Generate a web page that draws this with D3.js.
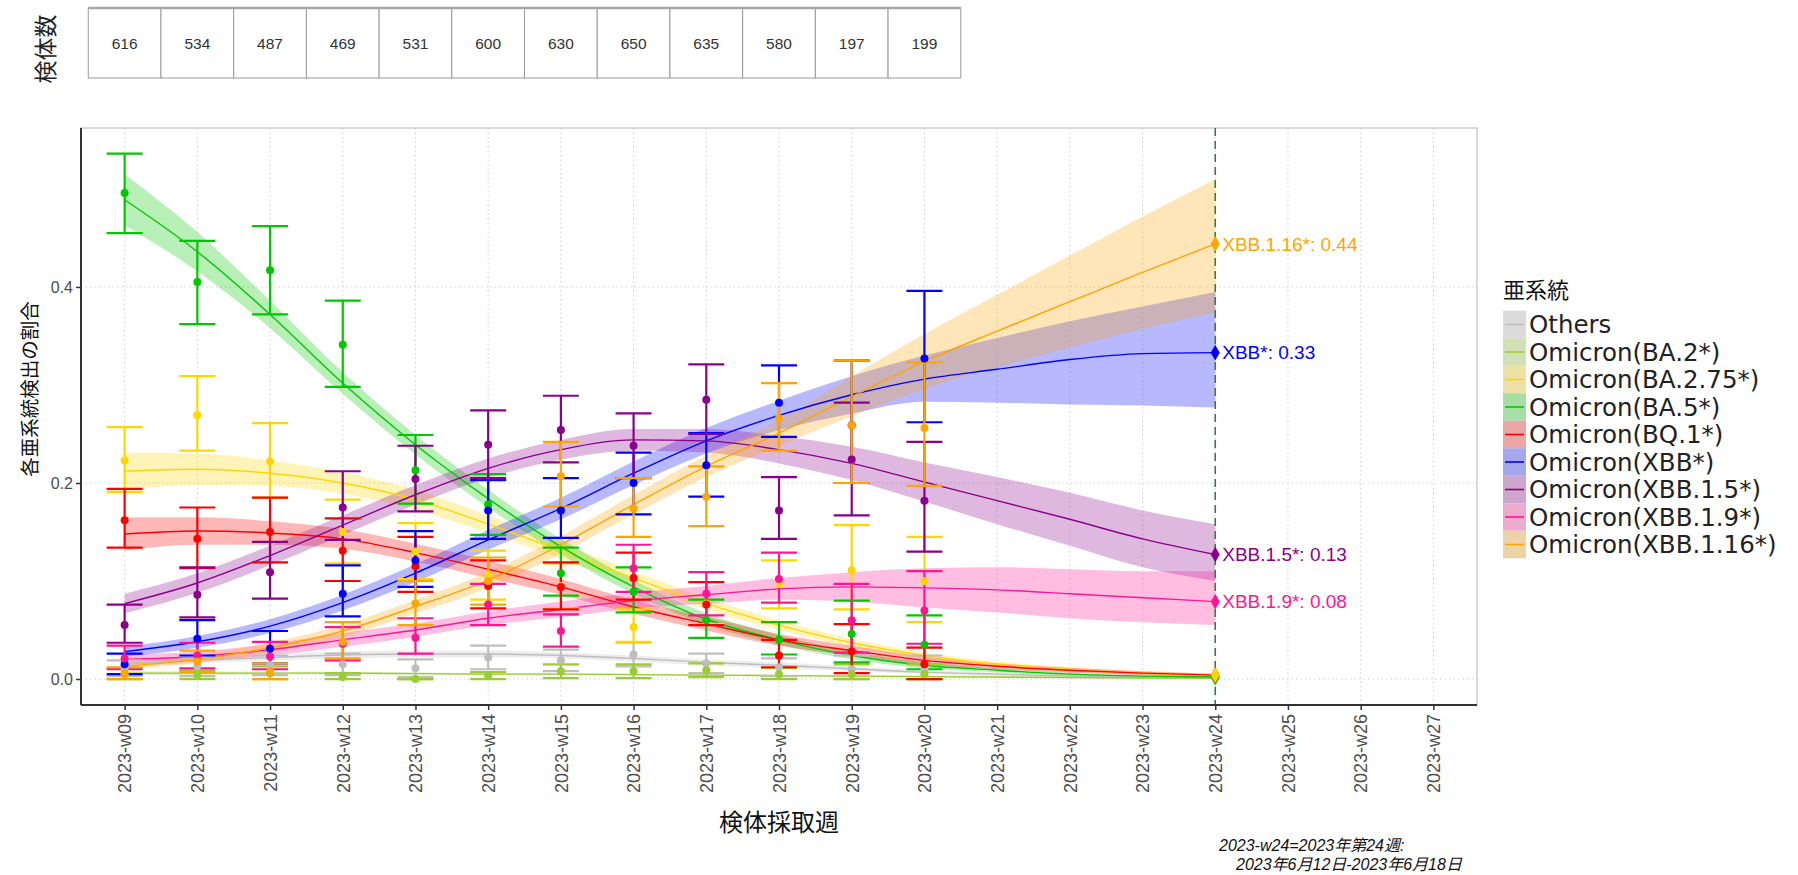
<!DOCTYPE html>
<html>
<head>
<meta charset="utf-8">
<script src="https://cdn.jsdelivr.net/npm/d3@7"></script>
<style>
  body { margin: 0; background: #ffffff; }
  svg { display: block; }
</style>
</head>
<body>
<svg id="chart" width="1798" height="875"></svg>
<script>
// ---- week axis and specimen counts ----
const weeks = ["2023-w09","2023-w10","2023-w11","2023-w12","2023-w13","2023-w14","2023-w15",
  "2023-w16","2023-w17","2023-w18","2023-w19","2023-w20","2023-w21","2023-w22","2023-w23",
  "2023-w24","2023-w25","2023-w26","2023-w27"];
const specimenCounts = [616, 534, 487, 469, 531, 600, 630, 650, 635, 580, 197, 199];
const yTicks = [0, 0.2, 0.4];

const lineages = ["Others","Omicron(BA.2*)","Omicron(BA.2.75*)","Omicron(BA.5*)","Omicron(BQ.1*)",
  "Omicron(XBB*)","Omicron(XBB.1.5*)","Omicron(XBB.1.9*)","Omicron(XBB.1.16*)"];
const lineageColors = ["#bebebe","#9acd32","#ffd700","#00c800","#ff0000","#0000ff","#8b008b","#ff1493","#ffa500"];
const labelledLineages = ["Omicron(XBB*)","Omicron(XBB.1.5*)","Omicron(XBB.1.9*)","Omicron(XBB.1.16*)"];
const endMarkerOrder = ["Others","Omicron(BA.2*)","Omicron(BA.5*)","Omicron(BQ.1*)","Omicron(BA.2.75*)",
  "Omicron(XBB.1.9*)","Omicron(XBB.1.5*)","Omicron(XBB*)","Omicron(XBB.1.16*)"];

// ---- observed weekly proportions (w09-w20) with 95% intervals ----
const othersObs  = [0.011,0.013,0.014,0.015,0.011,0.022,0.019,0.025,0.016,0.012,0.010,0.010];
const othersLow  = [0.003,0.003,0.004,0.004,0.002,0.010,0.008,0.013,0.006,0.003,0.000,0.000];
const othersHigh = [0.019,0.023,0.024,0.026,0.020,0.034,0.030,0.037,0.026,0.021,0.024,0.024];

const ba2Obs  = [0.005,0.004,0.006,0.002,0.000,0.003,0.008,0.008,0.009,0.005,0.005,0.005];
const ba2Low  = [0.000,0.000,0.000,0.000,0.000,0.000,0.001,0.001,0.002,0.000,0.000,0.000];
const ba2High = [0.011,0.009,0.013,0.006,0.000,0.007,0.015,0.015,0.016,0.011,0.015,0.015];

const ba275Obs  = [0.223,0.269,0.222,0.150,0.130,0.106,0.095,0.053,0.077,0.097,0.111,0.100];
const ba275Low  = [0.191,0.233,0.185,0.118,0.102,0.081,0.072,0.038,0.056,0.072,0.071,0.058];
const ba275High = [0.257,0.309,0.261,0.183,0.159,0.131,0.118,0.071,0.098,0.121,0.157,0.145];

const ba5Obs  = [0.496,0.405,0.417,0.341,0.213,0.178,0.108,0.089,0.060,0.040,0.046,0.035];
const ba5Low  = [0.455,0.362,0.372,0.298,0.179,0.147,0.085,0.068,0.042,0.025,0.017,0.010];
const ba5High = [0.536,0.447,0.462,0.386,0.249,0.209,0.134,0.114,0.081,0.058,0.080,0.065];

const bq1Obs  = [0.162,0.143,0.150,0.131,0.115,0.095,0.094,0.103,0.076,0.024,0.028,0.015];
const bq1Low  = [0.134,0.113,0.119,0.100,0.089,0.072,0.071,0.081,0.055,0.012,0.006,0.000];
const bq1High = [0.194,0.175,0.185,0.164,0.145,0.121,0.119,0.129,0.099,0.040,0.056,0.032];

const xbbObs  = [0.015,0.041,0.031,0.087,0.121,0.172,0.172,0.200,0.218,0.282,0.259,0.327];
const xbbLow  = [0.005,0.024,0.016,0.064,0.094,0.143,0.144,0.168,0.186,0.247,0.200,0.262];
const xbbHigh = [0.026,0.060,0.049,0.116,0.151,0.203,0.205,0.231,0.251,0.320,0.325,0.396];

const xbb15Obs  = [0.055,0.086,0.109,0.175,0.204,0.239,0.254,0.238,0.285,0.172,0.224,0.182];
const xbb15Low  = [0.037,0.063,0.082,0.142,0.171,0.205,0.221,0.205,0.250,0.143,0.167,0.130];
const xbb15High = [0.076,0.114,0.140,0.212,0.238,0.274,0.289,0.271,0.321,0.206,0.282,0.242];

const xbb19Obs  = [0.021,0.024,0.023,0.036,0.042,0.076,0.049,0.113,0.087,0.102,0.060,0.070];
const xbb19Low  = [0.010,0.011,0.010,0.019,0.026,0.055,0.033,0.089,0.065,0.078,0.027,0.036];
const xbb19High = [0.034,0.037,0.038,0.053,0.062,0.097,0.066,0.137,0.109,0.129,0.097,0.110];

const xbb116Obs  = [0.006,0.018,0.008,0.038,0.077,0.100,0.207,0.174,0.186,0.266,0.259,0.256];
const xbb116Low  = [0.000,0.007,0.000,0.021,0.055,0.076,0.176,0.145,0.156,0.233,0.200,0.197];
const xbb116High = [0.012,0.029,0.016,0.058,0.100,0.124,0.242,0.205,0.217,0.302,0.325,0.323];

// ---- fitted trend (w09-w24) with confidence band ----
const othersFit     = [0.015,0.019,0.022,0.0245,0.0255,0.0255,0.024,0.021,0.017,0.014,0.0105,0.007,0.005,0.003,0.002,0.001];
const othersFitLow  = [0.012,0.016,0.019,0.021,0.022,0.022,0.021,0.018,0.014,0.011,0.008,0.005,0.003,0.002,0.001,0.000];
const othersFitHigh = [0.018,0.022,0.025,0.028,0.029,0.029,0.027,0.024,0.020,0.017,0.013,0.009,0.007,0.005,0.003,0.002];

const ba2Fit     = [0.006,0.006,0.006,0.006,0.0055,0.005,0.005,0.0045,0.004,0.0035,0.003,0.0025,0.002,0.0015,0.001,0.001];
const ba2FitLow  = [0.004,0.004,0.0045,0.0045,0.0045,0.004,0.004,0.0035,0.003,0.0025,0.002,0.0015,0.001,0.0008,0.0005,0.0003];
const ba2FitHigh = [0.008,0.008,0.0075,0.0075,0.0068,0.006,0.006,0.0055,0.005,0.0047,0.0042,0.0036,0.003,0.0025,0.002,0.0018];

const ba275Fit     = [0.212,0.214,0.210,0.200,0.183,0.158,0.131,0.103,0.077,0.055,0.037,0.024,0.015,0.010,0.006,0.004];
const ba275FitLow  = [0.193,0.198,0.197,0.189,0.173,0.149,0.123,0.096,0.071,0.050,0.033,0.021,0.012,0.008,0.004,0.0025];
const ba275FitHigh = [0.231,0.230,0.223,0.211,0.193,0.167,0.139,0.110,0.083,0.060,0.041,0.027,0.018,0.012,0.008,0.0055];

const ba5Fit     = [0.489,0.436,0.372,0.302,0.239,0.184,0.135,0.094,0.061,0.040,0.024,0.014,0.009,0.005,0.003,0.002];
const ba5FitLow  = [0.463,0.416,0.358,0.291,0.229,0.175,0.127,0.087,0.055,0.035,0.020,0.011,0.007,0.0035,0.002,0.001];
const ba5FitHigh = [0.515,0.456,0.386,0.313,0.249,0.193,0.143,0.101,0.067,0.045,0.028,0.017,0.011,0.0065,0.004,0.003];

const bq1Fit     = [0.148,0.151,0.149,0.143,0.129,0.112,0.094,0.0735,0.0565,0.040,0.029,0.019,0.013,0.009,0.006,0.004];
const bq1FitLow  = [0.131,0.137,0.137,0.133,0.120,0.103,0.086,0.0665,0.0495,0.034,0.024,0.015,0.010,0.0065,0.004,0.0025];
const bq1FitHigh = [0.165,0.165,0.161,0.153,0.138,0.121,0.102,0.0805,0.0635,0.046,0.034,0.023,0.016,0.0115,0.008,0.0055];

const xbbFit     = [0.028,0.038,0.054,0.078,0.108,0.142,0.174,0.210,0.243,0.269,0.290,0.306,0.316,0.326,0.332,0.333];
const xbbFitLow  = [0.023,0.032,0.047,0.070,0.099,0.132,0.163,0.198,0.230,0.254,0.271,0.283,0.282,0.280,0.279,0.277];
const xbbFitHigh = [0.033,0.044,0.061,0.086,0.117,0.152,0.185,0.222,0.256,0.284,0.309,0.330,0.348,0.365,0.380,0.395];

const xbb15Fit     = [0.077,0.098,0.126,0.157,0.188,0.215,0.234,0.244,0.243,0.234,0.220,0.201,0.182,0.163,0.143,0.127];
const xbb15FitLow  = [0.067,0.088,0.116,0.147,0.178,0.205,0.224,0.233,0.231,0.220,0.203,0.181,0.158,0.136,0.114,0.100];
const xbb15FitHigh = [0.087,0.108,0.136,0.167,0.198,0.225,0.244,0.255,0.255,0.248,0.237,0.221,0.206,0.190,0.172,0.158];

const xbb19Fit     = [0.020,0.023,0.030,0.040,0.050,0.062,0.071,0.080,0.086,0.092,0.094,0.093,0.091,0.087,0.083,0.079];
const xbb19FitLow  = [0.015,0.018,0.024,0.033,0.043,0.055,0.063,0.072,0.077,0.081,0.079,0.073,0.068,0.062,0.058,0.055];
const xbb19FitHigh = [0.025,0.028,0.036,0.047,0.057,0.069,0.079,0.088,0.095,0.103,0.109,0.113,0.114,0.112,0.110,0.110];

const xbb116Fit     = [0.013,0.020,0.032,0.049,0.074,0.101,0.137,0.178,0.217,0.251,0.288,0.324,0.355,0.385,0.415,0.444];
const xbb116FitLow  = [0.010,0.016,0.027,0.043,0.067,0.093,0.128,0.168,0.206,0.238,0.268,0.296,0.318,0.338,0.357,0.374];
const xbb116FitHigh = [0.016,0.024,0.037,0.055,0.081,0.109,0.146,0.188,0.228,0.264,0.309,0.352,0.392,0.432,0.472,0.510];

// Assemble per-lineage records for drawing
const obsSets = [
  [othersObs, othersLow, othersHigh], [ba2Obs, ba2Low, ba2High], [ba275Obs, ba275Low, ba275High],
  [ba5Obs, ba5Low, ba5High], [bq1Obs, bq1Low, bq1High], [xbbObs, xbbLow, xbbHigh],
  [xbb15Obs, xbb15Low, xbb15High], [xbb19Obs, xbb19Low, xbb19High], [xbb116Obs, xbb116Low, xbb116High]
];
const fitSets = [
  [othersFit, othersFitLow, othersFitHigh], [ba2Fit, ba2FitLow, ba2FitHigh], [ba275Fit, ba275FitLow, ba275FitHigh],
  [ba5Fit, ba5FitLow, ba5FitHigh], [bq1Fit, bq1FitLow, bq1FitHigh], [xbbFit, xbbFitLow, xbbFitHigh],
  [xbb15Fit, xbb15FitLow, xbb15FitHigh], [xbb19Fit, xbb19FitLow, xbb19FitHigh], [xbb116Fit, xbb116FitLow, xbb116FitHigh]
];
const series = lineages.map((name, k) => ({
  name, color: lineageColors[k],
  obs: obsSets[k][0].map((v, i) => ({ i, v, lo: obsSets[k][1][i], hi: obsSets[k][2][i] })),
  fit: fitSets[k][0].map((v, i) => ({ i, v, lo: fitSets[k][1][i], hi: fitSets[k][2][i] }))
}));

// ---- layout ----
const svg = d3.select("#chart");
const panel = { left: 81, right: 1477, top: 128, bottom: 705 };
const x = d3.scaleLinear().domain([-0.6, weeks.length - 1 + 0.6]).range([panel.left, panel.right]);
const y = d3.scaleLinear().domain([-0.0265, 0.5622]).range([panel.bottom, panel.top]);
const latin = "'Liberation Sans', Arial, sans-serif";
const jp = "'Noto Sans CJK JP', sans-serif";
const axisGrey = "#4d4d4d";

// ---- specimen count table ----
const table = svg.append("g");
const tableTop = 8, tableBottom = 78;
table.selectAll("rect.cell").data(specimenCounts).join("rect")
  .attr("x", (d, i) => x(i - 0.5)).attr("y", tableTop)
  .attr("width", x(1) - x(0)).attr("height", tableBottom - tableTop)
  .attr("fill", "#ffffff").attr("stroke", "#9a9a9a").attr("stroke-width", 1);
table.append("line").attr("x1", x(-0.5)).attr("x2", x(specimenCounts.length - 0.5))
  .attr("y1", tableTop).attr("y2", tableTop).attr("stroke", "#a8a8a8").attr("stroke-width", 2.5);
table.selectAll("text.count").data(specimenCounts).join("text")
  .attr("x", (d, i) => x(i)).attr("y", (tableTop + tableBottom) / 2 + 5.5)
  .attr("text-anchor", "middle").attr("font-family", latin).attr("font-size", 15.5)
  .attr("fill", "#333").text(d => d);
svg.append("text").attr("transform", `translate(54,49) rotate(-90)`)
  .attr("text-anchor", "middle").attr("font-family", jp).attr("font-size", 23).attr("fill", "#222")
  .text("検体数");

// ---- grid ----
const grid = svg.append("g");
grid.selectAll("line.vg").data(weeks).join("line")
  .attr("x1", (d, i) => x(i)).attr("x2", (d, i) => x(i))
  .attr("y1", panel.top).attr("y2", panel.bottom)
  .attr("stroke", "#cfcfcf").attr("stroke-width", 1).attr("stroke-dasharray", "1.5,3");
grid.selectAll("line.hg").data(yTicks).join("line")
  .attr("x1", panel.left).attr("x2", panel.right)
  .attr("y1", d => y(d)).attr("y2", d => y(d))
  .attr("stroke", "#cfcfcf").attr("stroke-width", 1).attr("stroke-dasharray", "1.5,3");

// ---- panel frame ----
svg.append("rect").attr("x", panel.left).attr("y", panel.top)
  .attr("width", panel.right - panel.left).attr("height", panel.bottom - panel.top)
  .attr("fill", "none").attr("stroke", "#b5b5b5").attr("stroke-width", 1);

// ---- fitted bands and lines ----
const area = d3.area().x(d => x(d.i)).y0(d => y(d.lo)).y1(d => y(d.hi)).curve(d3.curveMonotoneX);
const line = d3.line().x(d => x(d.i)).y(d => y(d.v)).curve(d3.curveMonotoneX);
svg.append("g").selectAll("path").data(series).join("path")
  .attr("d", s => area(s.fit)).attr("fill", s => s.color).attr("fill-opacity", 0.28);
svg.append("g").selectAll("path").data(series).join("path")
  .attr("d", s => line(s.fit)).attr("fill", "none").attr("stroke", s => s.color).attr("stroke-width", 1.4);

// ---- observed error bars and points ----
const capHalf = 18;
const eb = svg.append("g").selectAll("g").data(series).join("g").attr("stroke", s => s.color).attr("stroke-width", 2.2);
eb.selectAll("line.v").data(s => s.obs).join("line")
  .attr("x1", d => x(d.i)).attr("x2", d => x(d.i)).attr("y1", d => y(d.lo)).attr("y2", d => y(d.hi));
eb.selectAll("line.t").data(s => s.obs).join("line")
  .attr("x1", d => x(d.i) - capHalf).attr("x2", d => x(d.i) + capHalf).attr("y1", d => y(d.hi)).attr("y2", d => y(d.hi));
eb.selectAll("line.b").data(s => s.obs).join("line")
  .attr("x1", d => x(d.i) - capHalf).attr("x2", d => x(d.i) + capHalf).attr("y1", d => y(d.lo)).attr("y2", d => y(d.lo));
svg.append("g").selectAll("g").data(series).join("g").attr("fill", s => s.color)
  .selectAll("circle").data(s => s.obs).join("circle")
  .attr("cx", d => x(d.i)).attr("cy", d => y(d.v)).attr("r", 4);

// ---- current-week reference line ----
const lastIdx = xbbFit.length - 1;
svg.append("line").attr("x1", x(lastIdx)).attr("x2", x(lastIdx))
  .attr("y1", panel.top).attr("y2", panel.bottom)
  .attr("stroke", "#3d7a3d").attr("stroke-width", 1.6).attr("stroke-dasharray", "8,5");

// ---- end markers and value labels ----
const diamond = d3.symbol().type(d3.symbolDiamond).size(70);
const markerSeries = endMarkerOrder.map(n => series.find(s => s.name === n));
svg.append("g").selectAll("path").data(markerSeries).join("path")
  .attr("d", diamond).attr("fill", s => s.color)
  .attr("transform", s => `translate(${x(lastIdx)},${y(s.fit[lastIdx].v)})`);
svg.append("g").selectAll("text").data(series.filter(s => labelledLineages.includes(s.name))).join("text")
  .attr("x", x(lastIdx) + 7).attr("y", s => y(s.fit[lastIdx].v)).attr("dy", "0.35em")
  .attr("font-family", latin).attr("font-size", 19).attr("fill", s => s.color)
  .text(s => `${s.name.replace("Omicron(", "").replace(")", "")}: ${d3.format(".2f")(s.fit[lastIdx].v)}`);

// ---- axes ----
const axisColor = "#333333";
svg.append("line").attr("x1", panel.left).attr("x2", panel.left).attr("y1", panel.top).attr("y2", panel.bottom)
  .attr("stroke", axisColor).attr("stroke-width", 2);
svg.append("line").attr("x1", panel.left).attr("x2", panel.right).attr("y1", panel.bottom).attr("y2", panel.bottom)
  .attr("stroke", axisColor).attr("stroke-width", 2);

const xAxis = d3.axisBottom(x).tickValues(d3.range(weeks.length)).tickFormat(i => weeks[i]).tickSize(5).tickSizeOuter(0);
const gx = svg.append("g").attr("transform", `translate(0,${panel.bottom})`).call(xAxis);
gx.select(".domain").remove();
gx.selectAll(".tick line").attr("stroke", axisColor).attr("stroke-width", 1.5);
gx.selectAll(".tick text").attr("font-family", latin).attr("font-size", 18).attr("fill", axisGrey)
  .attr("text-anchor", "end").attr("transform", "rotate(-90)").attr("x", -9).attr("y", 0).attr("dy", "0.35em");

const yAxis = d3.axisLeft(y).tickValues(yTicks).tickFormat(d3.format(".1f")).tickSize(5).tickSizeOuter(0);
const gy = svg.append("g").attr("transform", `translate(${panel.left},0)`).call(yAxis);
gy.select(".domain").remove();
gy.selectAll(".tick line").attr("stroke", axisColor).attr("stroke-width", 1.5);
gy.selectAll(".tick text").attr("font-family", latin).attr("font-size", 16).attr("fill", axisGrey).attr("x", -8);

svg.append("text").attr("x", (panel.left + panel.right) / 2).attr("y", 831)
  .attr("text-anchor", "middle").attr("font-family", jp).attr("font-size", 24).attr("fill", "#111")
  .text("検体採取週");
svg.append("text").attr("transform", `translate(37,389) rotate(-90)`)
  .attr("text-anchor", "middle").attr("font-family", jp).attr("font-size", 19.5).attr("fill", "#111")
  .text("各亜系統検出の割合");

// ---- footnote ----
const noteFont = "'Liberation Sans', 'Noto Sans CJK JP', sans-serif";
svg.append("text").attr("x", 1219).attr("y", 851).attr("font-family", noteFont).attr("font-style", "italic")
  .attr("font-size", 16).attr("fill", "#111").text("2023-w24=2023年第24週:");
svg.append("text").attr("x", 1236).attr("y", 870).attr("font-family", noteFont).attr("font-style", "italic")
  .attr("font-size", 16).attr("fill", "#111").text("2023年6月12日-2023年6月18日");

// ---- legend ----
const legend = svg.append("g").attr("transform", "translate(1503,0)");
legend.append("text").attr("x", 0).attr("y", 298).attr("font-family", jp).attr("font-size", 22)
  .attr("fill", "#111").text("亜系統");
const rowStep = 27.5, firstRow = 324.5, keyW = 23;
const rows = legend.selectAll("g.row").data(series).join("g")
  .attr("transform", (s, k) => `translate(0,${firstRow + k * rowStep})`);
rows.append("rect").attr("x", 0).attr("y", -rowStep / 2).attr("width", keyW).attr("height", rowStep)
  .attr("fill", "#e6e6e6");
rows.append("rect").attr("x", 0).attr("y", -rowStep / 2).attr("width", keyW).attr("height", rowStep)
  .attr("fill", s => s.color).attr("fill-opacity", 0.28);
rows.append("line").attr("x1", 2).attr("x2", keyW - 2).attr("y1", 0).attr("y2", 0)
  .attr("stroke", s => s.color).attr("stroke-width", 1.6);
rows.append("text").attr("x", keyW + 3).attr("y", 0).attr("dy", "0.36em")
  .attr("font-family", "'DejaVu Sans', sans-serif").attr("font-size", 24.5).attr("fill", "#222")
  .text(s => s.name);
</script>
</body>
</html>
